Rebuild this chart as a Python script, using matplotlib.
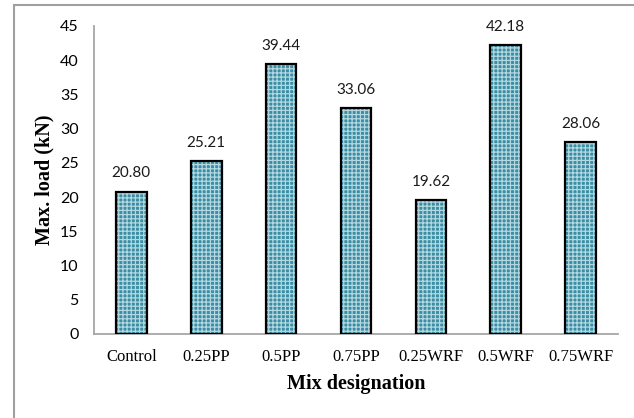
import numpy as np
import matplotlib.pyplot as plt
from matplotlib.patches import Rectangle

plt.rcParams['hatch.linewidth'] = 0.9

mixes = ['Control', '0.25PP', '0.5PP', '0.75PP', '0.25WRF', '0.5WRF', '0.75WRF']
max_load = [20.80, 25.21, 39.44, 33.06, 19.62, 42.18, 28.06]
yticks = [0, 5, 10, 15, 20, 25, 30, 35, 40, 45]

fig = plt.figure(figsize=(6.34, 4.18), dpi=100)
ax = fig.add_axes([0.148, 0.201, 0.827, 0.737])

x = np.arange(len(mixes))
# teal fill with light dotted hatch, then black outline on top
ax.bar(x, max_load, width=0.41, color='#3a8da2', edgecolor='#b3d8e1',
       hatch='++++', linewidth=0, zorder=2)
ax.bar(x, max_load, width=0.41, fill=False, edgecolor='black',
       linewidth=1.6, zorder=3)

for xi, v in zip(x, max_load):
    ax.annotate(f'{v:.2f}', (xi, v), xytext=(0, 8), textcoords='offset points',
                ha='center', va='bottom', fontsize=11, family='Lato', color='#1a1a1a')

ax.set_xlim(-0.5, len(mixes) - 0.5)
ax.set_ylim(0, 45)
ax.set_yticks(yticks)
ax.set_xticks(x)
ax.set_xticklabels(mixes, family='Liberation Serif', fontsize=12)
ax.set_yticklabels([str(t) for t in yticks], family='Lato', fontsize=11.5)
ax.tick_params(axis='y', length=0, pad=11)
ax.tick_params(axis='x', length=0, pad=11)

for s in ['top', 'right']:
    ax.spines[s].set_visible(False)
for s in ['left', 'bottom']:
    ax.spines[s].set_color('#a6a6a6')
    ax.spines[s].set_linewidth(1.3)

ax.set_ylabel('Max. load (kN)', family='Liberation Serif', fontweight='bold',
              fontsize=14.5, labelpad=4)
ax.set_xlabel('Mix designation', family='Liberation Serif', fontweight='bold',
              fontsize=14.5, labelpad=6)

# outer chart frame
fig.patches.append(Rectangle((14 / 634, -0.1), 1.2, 1 - 5 / 418 + 0.1,
                             transform=fig.transFigure, fill=False,
                             edgecolor='#a0a0a0', linewidth=1.5))

fig.savefig('out.png', dpi=100)
